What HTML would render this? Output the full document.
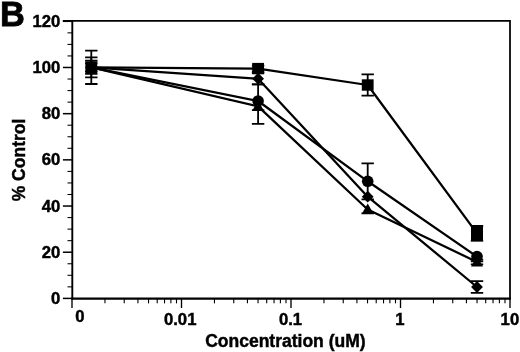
<!DOCTYPE html>
<html><head><meta charset="utf-8"><title>B</title>
<style>html,body{margin:0;padding:0;background:#fff}svg{display:block;will-change:transform}</style></head>
<body>
<svg width="520" height="352" viewBox="0 0 520 352">
<rect width="520" height="352" fill="#fff"/>
<g stroke="#000" fill="none">
<path d="M63.699999999999996 20.95H510.0V298.55" stroke-width="1.75" stroke-linecap="square"/>
<line x1="72.3" y1="20.15" x2="72.3" y2="299.55" stroke-width="1.9"/>
<line x1="71.39999999999999" y1="298.55" x2="510.85" y2="298.55" stroke-width="2.15"/>
<line x1="62.9" y1="298.40" x2="72.0" y2="298.40" stroke-width="1.5"/>
<line x1="67.5" y1="286.85" x2="72.0" y2="286.85" stroke-width="1.05"/>
<line x1="67.5" y1="275.31" x2="72.0" y2="275.31" stroke-width="1.05"/>
<line x1="67.5" y1="263.76" x2="72.0" y2="263.76" stroke-width="1.05"/>
<line x1="62.9" y1="252.22" x2="72.0" y2="252.22" stroke-width="1.5"/>
<line x1="67.5" y1="240.67" x2="72.0" y2="240.67" stroke-width="1.05"/>
<line x1="67.5" y1="229.12" x2="72.0" y2="229.12" stroke-width="1.05"/>
<line x1="67.5" y1="217.58" x2="72.0" y2="217.58" stroke-width="1.05"/>
<line x1="62.9" y1="206.03" x2="72.0" y2="206.03" stroke-width="1.5"/>
<line x1="67.5" y1="194.49" x2="72.0" y2="194.49" stroke-width="1.05"/>
<line x1="67.5" y1="182.94" x2="72.0" y2="182.94" stroke-width="1.05"/>
<line x1="67.5" y1="171.40" x2="72.0" y2="171.40" stroke-width="1.05"/>
<line x1="62.9" y1="159.85" x2="72.0" y2="159.85" stroke-width="1.5"/>
<line x1="67.5" y1="148.30" x2="72.0" y2="148.30" stroke-width="1.05"/>
<line x1="67.5" y1="136.76" x2="72.0" y2="136.76" stroke-width="1.05"/>
<line x1="67.5" y1="125.21" x2="72.0" y2="125.21" stroke-width="1.05"/>
<line x1="62.9" y1="113.67" x2="72.0" y2="113.67" stroke-width="1.5"/>
<line x1="67.5" y1="102.12" x2="72.0" y2="102.12" stroke-width="1.05"/>
<line x1="67.5" y1="90.57" x2="72.0" y2="90.57" stroke-width="1.05"/>
<line x1="67.5" y1="79.03" x2="72.0" y2="79.03" stroke-width="1.05"/>
<line x1="62.9" y1="67.48" x2="72.0" y2="67.48" stroke-width="1.5"/>
<line x1="67.5" y1="55.94" x2="72.0" y2="55.94" stroke-width="1.05"/>
<line x1="67.5" y1="44.39" x2="72.0" y2="44.39" stroke-width="1.05"/>
<line x1="67.5" y1="32.85" x2="72.0" y2="32.85" stroke-width="1.05"/>
<line x1="62.9" y1="21.30" x2="72.0" y2="21.30" stroke-width="1.5"/>
<line x1="72.00" y1="298.55" x2="72.00" y2="308.05" stroke-width="1.35"/>
<line x1="104.96" y1="298.55" x2="104.96" y2="303.35" stroke-width="1.1"/>
<line x1="124.24" y1="298.55" x2="124.24" y2="303.35" stroke-width="1.1"/>
<line x1="137.93" y1="298.55" x2="137.93" y2="303.35" stroke-width="1.1"/>
<line x1="148.54" y1="298.55" x2="148.54" y2="303.35" stroke-width="1.1"/>
<line x1="157.21" y1="298.55" x2="157.21" y2="303.35" stroke-width="1.1"/>
<line x1="164.54" y1="298.55" x2="164.54" y2="303.35" stroke-width="1.1"/>
<line x1="170.89" y1="298.55" x2="170.89" y2="303.35" stroke-width="1.1"/>
<line x1="176.49" y1="298.55" x2="176.49" y2="303.35" stroke-width="1.1"/>
<line x1="181.50" y1="298.55" x2="181.50" y2="308.05" stroke-width="1.35"/>
<line x1="214.46" y1="298.55" x2="214.46" y2="303.35" stroke-width="1.1"/>
<line x1="233.74" y1="298.55" x2="233.74" y2="303.35" stroke-width="1.1"/>
<line x1="247.43" y1="298.55" x2="247.43" y2="303.35" stroke-width="1.1"/>
<line x1="258.04" y1="298.55" x2="258.04" y2="303.35" stroke-width="1.1"/>
<line x1="266.71" y1="298.55" x2="266.71" y2="303.35" stroke-width="1.1"/>
<line x1="274.04" y1="298.55" x2="274.04" y2="303.35" stroke-width="1.1"/>
<line x1="280.39" y1="298.55" x2="280.39" y2="303.35" stroke-width="1.1"/>
<line x1="285.99" y1="298.55" x2="285.99" y2="303.35" stroke-width="1.1"/>
<line x1="291.00" y1="298.55" x2="291.00" y2="308.05" stroke-width="1.35"/>
<line x1="323.96" y1="298.55" x2="323.96" y2="303.35" stroke-width="1.1"/>
<line x1="343.24" y1="298.55" x2="343.24" y2="303.35" stroke-width="1.1"/>
<line x1="356.93" y1="298.55" x2="356.93" y2="303.35" stroke-width="1.1"/>
<line x1="367.54" y1="298.55" x2="367.54" y2="303.35" stroke-width="1.1"/>
<line x1="376.21" y1="298.55" x2="376.21" y2="303.35" stroke-width="1.1"/>
<line x1="383.54" y1="298.55" x2="383.54" y2="303.35" stroke-width="1.1"/>
<line x1="389.89" y1="298.55" x2="389.89" y2="303.35" stroke-width="1.1"/>
<line x1="395.49" y1="298.55" x2="395.49" y2="303.35" stroke-width="1.1"/>
<line x1="400.50" y1="298.55" x2="400.50" y2="308.05" stroke-width="1.35"/>
<line x1="433.46" y1="298.55" x2="433.46" y2="303.35" stroke-width="1.1"/>
<line x1="452.74" y1="298.55" x2="452.74" y2="303.35" stroke-width="1.1"/>
<line x1="466.43" y1="298.55" x2="466.43" y2="303.35" stroke-width="1.1"/>
<line x1="477.04" y1="298.55" x2="477.04" y2="303.35" stroke-width="1.1"/>
<line x1="485.71" y1="298.55" x2="485.71" y2="303.35" stroke-width="1.1"/>
<line x1="493.04" y1="298.55" x2="493.04" y2="303.35" stroke-width="1.1"/>
<line x1="499.39" y1="298.55" x2="499.39" y2="303.35" stroke-width="1.1"/>
<line x1="504.99" y1="298.55" x2="504.99" y2="303.35" stroke-width="1.1"/>
<line x1="510.00" y1="298.55" x2="510.00" y2="308.05" stroke-width="1.35"/>
</g>
<g stroke="#000" stroke-width="2.25" fill="none" stroke-linejoin="round">
<polyline points="91.30,67.35 258.10,68.60 367.70,85.00 477.00,233.30"/>
<polyline points="91.30,67.35 258.10,101.00 367.70,181.30 477.00,256.60"/>
<polyline points="91.30,67.35 258.10,78.70 367.70,196.70 477.00,287.00"/>
<polyline points="91.30,67.35 258.10,106.40 367.70,209.50 477.00,262.00"/>
</g>
<g stroke="#000" stroke-width="1.8" fill="none">
<path d="M91.30 57.35V77.35M85.10 57.35H97.50M85.10 77.35H97.50"/>
<path d="M258.10 65.60V71.60M251.90 65.60H264.30M251.90 71.60H264.30"/>
<path d="M367.70 74.40V95.60M361.50 74.40H373.90M361.50 95.60H373.90"/>
<path d="M477.00 226.00V240.60M470.80 226.00H483.20M470.80 240.60H483.20"/>
<path d="M91.30 60.75V73.95M85.10 60.75H97.50M85.10 73.95H97.50"/>
<path d="M258.10 84.40V110.20M251.90 84.40H264.30M251.90 110.20H264.30"/>
<path d="M367.70 163.30V199.30M361.50 163.30H373.90M361.50 199.30H373.90"/>
<path d="M477.00 256.60V261.30M470.80 261.30H483.20"/>
<path d="M91.30 50.70V84.00M85.10 50.70H97.50M85.10 84.00H97.50"/>
<path d="M258.10 73.00V84.40M251.90 73.00H264.30M251.90 84.40H264.30"/>
<path d="M477.00 281.10V292.90M470.80 281.10H483.20M470.80 292.90H483.20"/>
<path d="M91.30 63.35V71.35M85.10 63.35H97.50M85.10 71.35H97.50"/>
<path d="M258.10 106.40V123.90M251.90 123.90H264.30"/>
<path d="M367.70 209.50V213.40M361.50 213.40H373.90"/>
<path d="M477.00 259.60V264.40M470.80 259.60H483.20M470.80 264.40H483.20"/>
</g>
<g fill="#000">
<rect x="471.00" y="225.3" width="12.0" height="16.0"/>
<rect x="85.40" y="61.65" width="11.8" height="11.4"/>
<rect x="252.20" y="62.90" width="11.8" height="11.4"/>
<rect x="361.80" y="79.30" width="11.8" height="11.4"/>
<rect x="471.10" y="227.60" width="11.8" height="11.4"/>
<circle cx="91.30" cy="67.35" r="5.8"/>
<circle cx="258.10" cy="101.00" r="5.8"/>
<circle cx="367.70" cy="181.30" r="5.8"/>
<circle cx="477.00" cy="256.60" r="5.8"/>
<path d="M91.30 61.45L97.20 67.35L91.30 73.25L85.40 67.35Z"/>
<path d="M258.10 72.80L264.00 78.70L258.10 84.60L252.20 78.70Z"/>
<path d="M367.70 190.80L373.60 196.70L367.70 202.60L361.80 196.70Z"/>
<path d="M477.00 281.10L482.90 287.00L477.00 292.90L471.10 287.00Z"/>
<path d="M91.30 61.35L97.30 71.85H85.30Z"/>
<path d="M258.10 100.40L264.10 110.90H252.10Z"/>
<path d="M367.70 203.50L373.70 214.00H361.70Z"/>
<path d="M477.00 256.00L483.00 266.50H471.00Z"/>
</g>
<g font-family="'Liberation Sans', Arial, Helvetica, sans-serif" font-weight="bold" fill="#000" stroke="#000" stroke-width="0.45">
<text x="0" y="26.0" font-size="34.4" stroke-width="0.8">B</text>
<text x="60.4" y="303.90" font-size="16.7" text-anchor="end">0</text>
<text x="60.4" y="257.72" font-size="16.7" text-anchor="end">20</text>
<text x="60.4" y="211.53" font-size="16.7" text-anchor="end">40</text>
<text x="60.4" y="165.35" font-size="16.7" text-anchor="end">60</text>
<text x="60.4" y="119.17" font-size="16.7" text-anchor="end">80</text>
<text x="60.4" y="72.98" font-size="16.7" text-anchor="end">100</text>
<text x="60.4" y="26.80" font-size="16.7" text-anchor="end">120</text>
<text x="79.8" y="322.0" font-size="16.7" text-anchor="middle">0</text>
<text x="180.2" y="324.7" font-size="16.7" text-anchor="middle">0.01</text>
<text x="290.5" y="324.7" font-size="16.7" text-anchor="middle">0.1</text>
<text x="400" y="324.7" font-size="16.7" text-anchor="middle">1</text>
<text x="509.9" y="324.7" font-size="16.7" text-anchor="middle">10</text>
<text x="285.4" y="347.2" font-size="17.5" text-anchor="middle">Concentration (uM)</text>
<text transform="translate(25 160) rotate(-90)" font-size="17.5" text-anchor="middle">% Control</text>
</g>
</svg>
</body></html>
